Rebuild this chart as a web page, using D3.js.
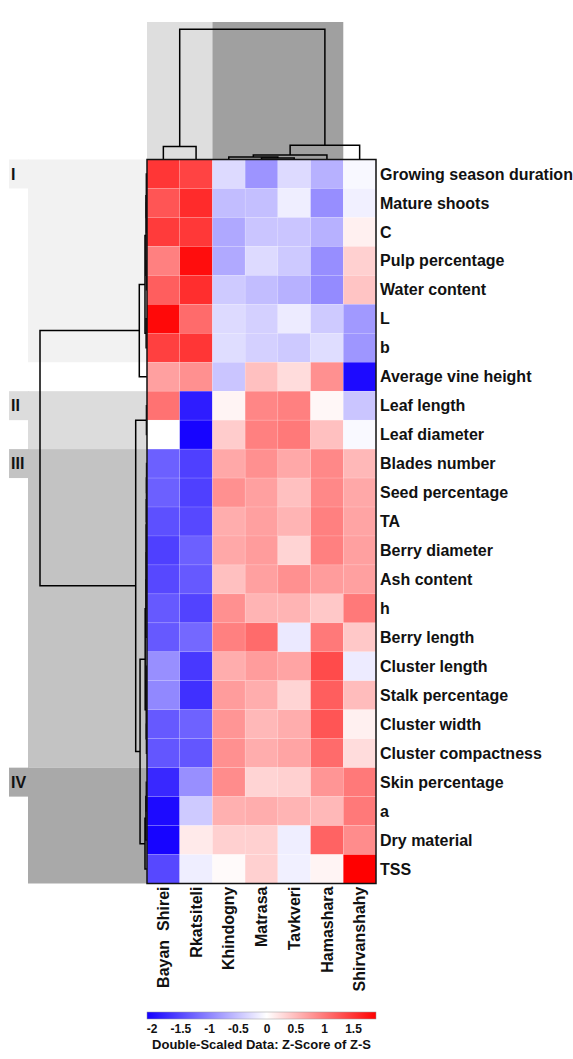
<!DOCTYPE html>
<html>
<head>
<meta charset="utf-8">
<script src="https://cdn.jsdelivr.net/npm/d3@7/dist/d3.min.js"></script>
<style>
body{margin:0;background:#fff}
svg{font-family:"Liberation Sans",Arial,sans-serif;font-weight:bold}
</style>
</head>
<body>
<svg id="chart" width="573" height="1059"></svg>
<script>
// cultivars (columns) and traits (rows), in dendrogram order
const cultivars = ["Bayan  Shirei", "Rkatsiteli", "Khindogny", "Matrasa", "Tavkveri", "Hamashara", "Shirvanshahy"];
const traits = ["Growing season duration", "Mature shoots", "C", "Pulp percentage", "Water content", "L", "b",
  "Average vine height", "Leaf length", "Leaf diameter", "Blades number", "Seed percentage", "TA",
  "Berry diameter", "Ash content", "h", "Berry length", "Cluster length", "Stalk percentage",
  "Cluster width", "Cluster compactness", "Skin percentage", "a", "Dry material", "TSS"];

// z-score of z-score, one row per trait, one value per cultivar
const zscores = [
  [1.50, 1.40, -0.30, -0.87, -0.30, -0.64, -0.06],
  [1.27, 1.58, -0.54, -0.52, -0.14, -0.92, -0.12],
  [1.46, 1.48, -0.71, -0.47, -0.47, -0.64, 0.11],
  [0.95, 1.80, -0.70, -0.30, -0.44, -0.92, 0.35],
  [1.20, 1.56, -0.43, -0.54, -0.64, -0.95, 0.44],
  [1.83, 1.10, -0.30, -0.38, -0.16, -0.43, -0.83],
  [1.42, 1.50, -0.28, -0.38, -0.44, -0.28, -0.86],
  [0.71, 0.83, -0.47, 0.47, 0.26, 0.83, -2.00],
  [1.05, -1.85, 0.08, 0.90, 0.95, 0.06, -0.47],
  [0.00, -2.05, 0.38, 0.95, 1.00, 0.47, -0.05],
  [-1.30, -1.56, 0.65, 0.83, 0.65, 0.89, 0.53],
  [-1.30, -1.56, 0.83, 0.71, 0.47, 0.89, 0.65],
  [-1.43, -1.49, 0.61, 0.71, 0.56, 0.95, 0.68],
  [-1.56, -1.30, 0.65, 0.74, 0.32, 0.95, 0.71],
  [-1.49, -1.35, 0.47, 0.71, 0.83, 0.74, 0.71],
  [-1.35, -1.53, 0.83, 0.56, 0.56, 0.41, 1.00],
  [-1.35, -1.23, 0.95, 1.10, -0.18, 1.00, 0.41],
  [-0.91, -1.62, 0.61, 0.74, 0.68, 1.34, -0.16],
  [-0.97, -1.69, 0.74, 0.61, 0.32, 1.20, 0.50],
  [-1.35, -1.28, 0.79, 0.53, 0.61, 1.27, 0.11],
  [-1.38, -1.38, 0.83, 0.61, 0.68, 1.10, 0.26],
  [-1.75, -0.91, 0.86, 0.32, 0.35, 0.79, 1.00],
  [-2.00, -0.43, 0.59, 0.61, 0.56, 0.53, 1.00],
  [-2.05, 0.16, 0.35, 0.35, -0.14, 1.16, 0.86],
  [-1.49, -0.14, 0.04, 0.35, -0.12, 0.08, 1.90]
];

// dendrograms: [linkage height (root = 1), left, right], leaves are indexes
const rowTree = [1.0,
  [0.072,
    [0.0187,
      [0.009, [0.006, 0, [0.004, 1, 2]], [0.005, 3, 4]],
      [0.008, 5, 6]],
    7],
  [0.1056,
    [0.005, 8, 9],
    [0.065,
      [0.017,
        [0.009, [0.008, [0.007, [0.006, [0.005, [0.004, 10, 11], 12], 13], 14], 15], 16],
        [0.007, [0.004, 17, 18], [0.005, 19, 20]]],
      [0.0187, [0.01, [0.006, 21, 22], 23], 24]]]];
const colTree = [1.0,
  [0.0997, 0, 1],
  [0.110,
    [0.0337, [0.0184, 2, [0.0107, 3, 4]], 5],
    6]];

// trait clusters
const rowGroupLabels = ["I", "II", "III", "IV"];
const rowGroupRange = [[0, 6], [8, 9], [10, 20], [21, 24]];
// cultivar clusters that are shaded
const colGroupRange = [[0, 1], [2, 5]];

const colorDomain = [-2.08, 0, 1.9];
const legendTicks = [-2, -1.5, -1, -0.5, 0, 0.5, 1, 1.5];
const legendTitle = "Double-Scaled Data: Z-Score of Z-S";

/* layout */
const hm = {x0: 147, x1: 376, y0: 159.5, y1: 883.5};
const svg = d3.select("#chart");

const x = d3.scaleBand().domain(d3.range(cultivars.length)).range([hm.x0, hm.x1]);
const y = d3.scaleBand().domain(d3.range(traits.length)).range([hm.y0, hm.y1]);
const color = d3.scaleLinear().domain(colorDomain).range(["#1400ff", "#ffffff", "#ff0000"]);

// shaded cluster bands
const rowFill = ["#f2f2f2", "#dcdcdc", "#c3c3c3", "#a9a9a9"];
const colFill = ["#dedede", "#a0a0a0"];

const bands = svg.append("g");
rowGroupRange.forEach(function(r, i) {
  bands.append("rect")
    .attr("x", 28).attr("y", y(r[0]))
    .attr("width", hm.x0 - 28).attr("height", y(r[1]) + y.bandwidth() - y(r[0]))
    .attr("fill", rowFill[i]);
  bands.append("rect")
    .attr("x", 9).attr("y", y(r[0]))
    .attr("width", 20).attr("height", y.bandwidth())
    .attr("fill", rowFill[i]);
  bands.append("text")
    .attr("x", 11).attr("y", y(r[0]) + y.bandwidth() / 2).attr("dy", "0.35em")
    .attr("font-size", 16).attr("fill", "#111")
    .text(rowGroupLabels[i]);
});
colGroupRange.forEach(function(c, i) {
  bands.append("rect")
    .attr("x", x(c[0])).attr("y", 22)
    .attr("width", x(c[1]) + x.bandwidth() - x(c[0])).attr("height", hm.y0 - 22)
    .attr("fill", colFill[i]);
});

// dendrograms
function drawTree(tree, pos, height, horizontal) {
  const g = svg.append("g").attr("fill", "none").attr("stroke", "#000").attr("stroke-width", 1.5);
  function walk(node) {
    if (typeof node === "number") return {p: pos(node), h: 0};
    const a = walk(node[1]), b = walk(node[2]);
    const h = node[0];
    const d = horizontal
      ? `M${height(a.h)},${a.p}H${height(h)}V${b.p}H${height(b.h)}`
      : `M${a.p},${height(a.h)}V${height(h)}H${b.p}V${height(b.h)}`;
    g.append("path").attr("d", d);
    return {p: (a.p + b.p) / 2, h: h};
  }
  walk(tree);
}
drawTree(rowTree, i => y(i) + y.bandwidth() / 2,
  d3.scaleLinear().domain([0, 1]).range([hm.x0, 40]), true);
drawTree(colTree, j => x(j) + x.bandwidth() / 2,
  d3.scaleLinear().domain([0, 1]).range([hm.y0, 29.3]), false);

// heatmap cells
const cells = [];
zscores.forEach((row, i) => row.forEach((v, j) => cells.push({i, j, v})));
svg.append("g").selectAll("rect").data(cells).enter().append("rect")
  .attr("x", d => x(d.j)).attr("y", d => y(d.i))
  .attr("width", x.bandwidth()).attr("height", y.bandwidth())
  .attr("fill", d => color(d.v))
  .attr("stroke", "rgba(255,255,255,0.25)").attr("stroke-width", 0.5);
svg.append("rect")
  .attr("x", hm.x0).attr("y", hm.y0)
  .attr("width", hm.x1 - hm.x0).attr("height", hm.y1 - hm.y0)
  .attr("fill", "none").attr("stroke", "#111").attr("stroke-width", 1.5);

// row labels
svg.append("g").selectAll("text").data(traits).enter().append("text")
  .attr("x", hm.x1 + 4).attr("y", (d, i) => y(i) + y.bandwidth() / 2).attr("dy", "0.35em")
  .attr("font-size", 16).attr("fill", "#111")
  .text(d => d);

// column labels
svg.append("g").selectAll("text").data(cultivars).enter().append("text")
  .attr("transform", (d, j) => `translate(${x(j) + x.bandwidth() / 2},${hm.y1 + 3}) rotate(-90)`)
  .attr("text-anchor", "end").attr("dy", "0.35em")
  .attr("font-size", 16).attr("fill", "#111")
  .style("white-space", "pre")
  .text(d => d);

// colour legend
const lx = d3.scaleLinear().domain([colorDomain[0], colorDomain[2]]).range([hm.x0, hm.x1]);
const grad = svg.append("defs").append("linearGradient").attr("id", "zgrad");
colorDomain.forEach(function(v) {
  grad.append("stop")
    .attr("offset", (lx(v) - hm.x0) / (hm.x1 - hm.x0))
    .attr("stop-color", color(v));
});
svg.append("rect")
  .attr("x", hm.x0).attr("y", 1012).attr("width", hm.x1 - hm.x0).attr("height", 7)
  .attr("fill", "url(#zgrad)").attr("stroke", "#999").attr("stroke-width", 0.5);

const axis = svg.append("g").attr("transform", "translate(0,1021)")
  .call(d3.axisBottom(lx).tickValues(legendTicks).tickSize(0).tickPadding(3).tickFormat(d => String(d)));
axis.select(".domain").remove();
axis.selectAll("text").attr("font-size", 12).attr("font-weight", "bold")
  .attr("font-family", "'Liberation Sans',Arial,sans-serif").attr("fill", "#111");

svg.append("text")
  .attr("x", (hm.x0 + hm.x1) / 2).attr("y", 1049)
  .attr("text-anchor", "middle").attr("font-size", 13).attr("fill", "#111")
  .text(legendTitle);
</script>
</body>
</html>
